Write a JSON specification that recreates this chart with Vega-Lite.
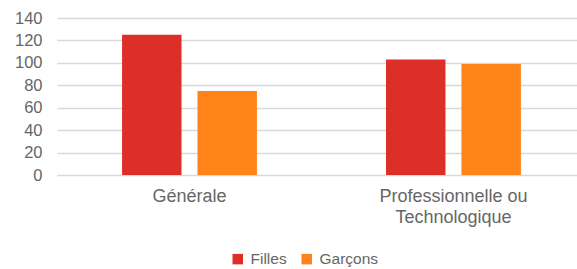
{
  "$schema": "https://vega.github.io/schema/vega-lite/v6.json",
  "autosize": {"type": "none"},
  "width": 520,
  "height": 157,
  "padding": {"left": 57, "top": 18, "right": 0, "bottom": 94},
  "background": "white",
  "data": {
    "values": [
      {"filiere": "Générale", "sexe": "Filles", "valeur": 125},
      {"filiere": "Générale", "sexe": "Garçons", "valeur": 75},
      {"filiere": "Professionnelle ou Technologique", "sexe": "Filles", "valeur": 103},
      {"filiere": "Professionnelle ou Technologique", "sexe": "Garçons", "valeur": 99}
    ]
  },
  "mark": {"type": "bar"},
  "encoding": {
    "x": {
      "field": "filiere",
      "type": "nominal",
      "sort": ["Générale", "Professionnelle ou Technologique"],
      "scale": {"paddingInner": 0.489, "paddingOuter": 0.2295, "align": 0.537},
      "axis": {
        "title": null,
        "labelAngle": 0,
        "domain": false,
        "ticks": false,
        "labelPadding": 12,
        "labelFont": "Liberation Sans",
        "labelFontSize": 18,
        "labelColor": "#666666",
        "labelLineHeight": 21,
        "labelBaseline": "top",
        "labelExpr": "datum.value == 'Professionnelle ou Technologique' ? ['Professionnelle ou', 'Technologique'] : datum.value"
      }
    },
    "xOffset": {
      "field": "sexe",
      "type": "nominal",
      "sort": ["Filles", "Garçons"],
      "scale": {"paddingInner": 0.212, "paddingOuter": 0}
    },
    "y": {
      "field": "valeur",
      "type": "quantitative",
      "scale": {"domain": [0, 140], "nice": false},
      "axis": {
        "title": null,
        "values": [0, 20, 40, 60, 80, 100, 120, 140],
        "domain": false,
        "ticks": false,
        "labelPadding": 15,
        "labelFont": "Liberation Sans",
        "labelFontSize": 16.5,
        "labelColor": "#666666",
        "gridColor": "#d9d9d9",
        "gridWidth": 1.3
      }
    },
    "color": {
      "field": "sexe",
      "type": "nominal",
      "sort": ["Filles", "Garçons"],
      "scale": {"domain": ["Filles", "Garçons"], "range": ["#DD2E28", "#FE841A"]},
      "legend": {
        "title": null,
        "orient": "none",
        "direction": "horizontal",
        "legendX": 173,
        "legendY": 233,
        "symbolType": "square",
        "symbolSize": 110,
        "symbolStrokeWidth": 0,
        "labelFont": "Liberation Sans",
        "labelFontSize": 15.5,
        "labelColor": "#666666",
        "labelOffset": 5,
        "columnPadding": 12
      }
    }
  },
  "config": {"view": {"stroke": null}}
}
